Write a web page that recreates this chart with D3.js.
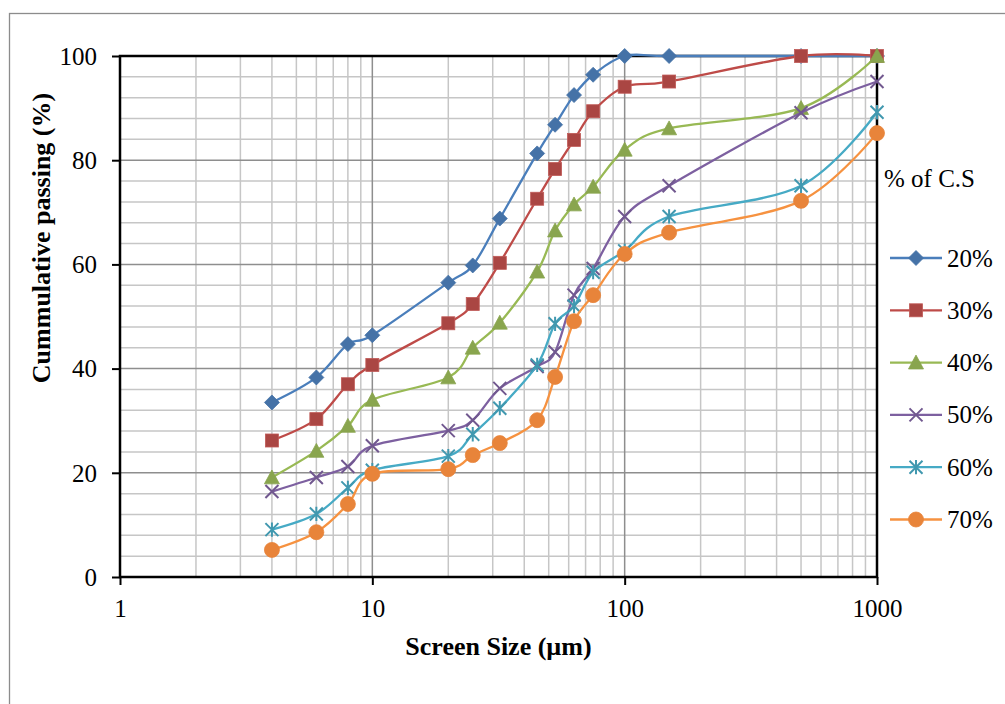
<!DOCTYPE html>
<html>
<head>
<meta charset="utf-8">
<script src="https://cdn.jsdelivr.net/npm/d3@7"></script>
<style>
  html, body { margin: 0; padding: 0; background: #fff; }
  svg { display: block; font-family: "Liberation Serif", "Times New Roman", serif; }
  svg text { font-family: "Liberation Serif", "Times New Roman", serif; }
</style>
</head>
<body>
<svg id="chart" width="1005" height="704"></svg>
<script>
// Screen sizes (µm) used for every grading curve
const sizes = [4, 6, 8, 10, 20, 25, 32, 45, 53, 63, 75, 100, 150, 500, 1000];

// Cumulative passing (%) for each C.S content
const cs20 = [33.5, 38.3, 44.7, 46.4, 56.5, 59.8, 68.8, 81.3, 86.8, 92.5, 96.4, 100, 100, 100, 100];
const cs30 = [26.2, 30.3, 37.0, 40.7, 48.7, 52.4, 60.3, 72.6, 78.3, 83.9, 89.4, 94.1, 95.1, 100, 100];
const cs40 = [19.1, 24.2, 29.0, 34.0, 38.3, 44.0, 48.8, 58.6, 66.5, 71.5, 74.9, 82.0, 86.1, 90.0, 100];
const cs50 = [16.4, 19.1, 21.2, 25.2, 28.1, 30.1, 36.2, 40.4, 43.2, 54.1, 59.2, 69.2, 75.1, 89.1, 95.1];
const cs60 = [9.1, 12.1, 17.1, 20.5, 23.2, 27.4, 32.4, 40.7, 48.6, 52.0, 58.5, 62.6, 69.2, 75.1, 89.2];
const cs70 = [5.2, 8.6, 14.0, 19.8, 20.7, 23.4, 25.7, 30.1, 38.4, 49.1, 54.1, 62.0, 66.1, 72.2, 85.2];

const seriesNames = ["20%", "30%", "40%", "50%", "60%", "70%"];
const seriesValues = [cs20, cs30, cs40, cs50, cs60, cs70];

const xTicks = [1, 10, 100, 1000];
const yTicks = [0, 20, 40, 60, 80, 100];

const legendTitle = "% of C.S";
const xTitle = "Screen Size (µm)";
const yTitle = "Cummulative passing (%)";

// Styling
const serif = "'Liberation Serif', 'Times New Roman', serif";
const lineColors   = ["#4A7EBB", "#BE4B48", "#98B954", "#7D60A0", "#46AAC5", "#F69240"];
const markerColors = ["#4572A7", "#AA4643", "#89A54E", "#71588F", "#4198AF", "#E8843A"];
const markerKinds  = ["diamond", "square", "triangle", "x", "star", "circle"];

const svg = d3.select("#chart");
const pLeft = 120, pRight = 877, pTop = 56, pBottom = 577;

const x = d3.scaleLog().domain([1, 1000]).range([pLeft, pRight]);
const y = d3.scaleLinear().domain([0, 100]).range([pBottom, pTop]);

// Outer chart frame
svg.append("rect")
  .attr("x", 9.5).attr("y", 13.5)
  .attr("width", 1000).attr("height", 700)
  .attr("fill", "none").attr("stroke", "#8c8c8c").attr("stroke-width", 1.3);

// Grid: minor lines first, then decade / 20% lines
const grid = svg.append("g");
const minorX = [];
[1, 10, 100].forEach(d => { for (let k = 2; k <= 9; k++) minorX.push(d * k); });
const majorX = [10, 100];
const minorY = d3.range(4, 100, 4).filter(v => v % 20 !== 0);
const majorY = [20, 40, 60, 80];

grid.selectAll(".mx").data(minorX).join("line")
  .attr("x1", d => x(d)).attr("x2", d => x(d))
  .attr("y1", pTop).attr("y2", pBottom)
  .attr("stroke", "#c6c6c6").attr("stroke-width", 1.5);
grid.selectAll(".my").data(minorY).join("line")
  .attr("x1", pLeft).attr("x2", pRight)
  .attr("y1", d => y(d)).attr("y2", d => y(d))
  .attr("stroke", "#c6c6c6").attr("stroke-width", 1.5);
grid.selectAll(".Mx").data(majorX).join("line")
  .attr("x1", d => x(d)).attr("x2", d => x(d))
  .attr("y1", pTop).attr("y2", pBottom)
  .attr("stroke", "#8e8e8e").attr("stroke-width", 1.5);
grid.selectAll(".My").data(majorY).join("line")
  .attr("x1", pLeft).attr("x2", pRight)
  .attr("y1", d => y(d)).attr("y2", d => y(d))
  .attr("stroke", "#8e8e8e").attr("stroke-width", 1.5);

// Axes
const xAxis = d3.axisBottom(x).tickValues(xTicks).tickFormat(d3.format("d")).tickSize(8).tickSizeOuter(0);
const yAxis = d3.axisLeft(y).tickValues(yTicks).tickFormat(d3.format("d")).tickSize(8).tickSizeOuter(0);

const gx = svg.append("g").attr("transform", `translate(0,${pBottom})`).call(xAxis);
const gy = svg.append("g").attr("transform", `translate(${pLeft},0)`).call(yAxis);
[gx, gy].forEach(g => {
  g.attr("font-family", serif).attr("font-size", 25);
  g.select(".domain").remove();
  g.selectAll(".tick line").attr("stroke", "#000").attr("stroke-width", 2);
  g.selectAll(".tick text").attr("fill", "#000")
    .attr("font-family", serif).style("font-family", serif).style("font-size", "25px");
});
gx.selectAll(".tick text").attr("y", 0).attr("dy", "40px");
gy.selectAll(".tick text").attr("x", -23).attr("dy", "0.33em");

// Plot frame
svg.append("rect")
  .attr("x", pLeft).attr("y", pTop)
  .attr("width", pRight - pLeft).attr("height", pBottom - pTop)
  .attr("fill", "none").attr("stroke", "#000").attr("stroke-width", 2.5);

// Marker drawing
function drawMarker(g, kind, color, cx, cy, scale = 1) {
  const s = scale;
  if (kind === "diamond") {
    const r = 7.5 * s;
    g.append("path").attr("d", `M${cx},${cy - r}L${cx + r},${cy}L${cx},${cy + r}L${cx - r},${cy}Z`)
      .attr("fill", color).attr("stroke", color).attr("stroke-width", 0.8);
  } else if (kind === "square") {
    const r = 6.5 * s;
    g.append("rect").attr("x", cx - r).attr("y", cy - r).attr("width", 2 * r).attr("height", 2 * r)
      .attr("fill", color).attr("stroke", "#c05a57").attr("stroke-width", 0.8);
  } else if (kind === "triangle") {
    const r = 7.5 * s;
    g.append("path").attr("d", `M${cx},${cy - r}L${cx + r},${cy + r * 0.85}L${cx - r},${cy + r * 0.85}Z`)
      .attr("fill", color).attr("stroke", color).attr("stroke-width", 0.8);
  } else if (kind === "x") {
    const r = 6.5 * s;
    g.append("path").attr("d", `M${cx - r},${cy - r}L${cx + r},${cy + r}M${cx - r},${cy + r}L${cx + r},${cy - r}`)
      .attr("stroke", color).attr("stroke-width", 2).attr("fill", "none");
  } else if (kind === "star") {
    const r = 6.5 * s;
    g.append("path").attr("d", `M${cx - r},${cy - r}L${cx + r},${cy + r}M${cx - r},${cy + r}L${cx + r},${cy - r}M${cx},${cy - r * 1.1}L${cx},${cy + r * 1.1}`)
      .attr("stroke", color).attr("stroke-width", 2).attr("fill", "none");
  } else if (kind === "circle") {
    g.append("circle").attr("cx", cx).attr("cy", cy).attr("r", 7.5 * s)
      .attr("fill", color).attr("stroke", color).attr("stroke-width", 0.8);
  }
}

// Smoothed grading curves
const line = d3.line()
  .x(d => x(d[0]))
  .y(d => y(d[1]))
  .curve(d3.curveCatmullRom.alpha(0));

const plot = svg.append("g");
seriesValues.forEach((vals, i) => {
  const pts = sizes.map((s, j) => [s, vals[j]]);
  const g = plot.append("g");
  g.append("path").datum(pts)
    .attr("d", line)
    .attr("fill", "none")
    .attr("stroke", lineColors[i])
    .attr("stroke-width", 2.3);
  pts.forEach(p => drawMarker(g, markerKinds[i], markerColors[i], x(p[0]), y(p[1])));
});

// Axis titles
svg.append("text")
  .attr("x", (pLeft + pRight) / 2).attr("y", 655)
  .attr("text-anchor", "middle")
  .attr("font-family", serif)
  .style("font-size", "26px").style("font-weight", "bold")
  .text(xTitle);

svg.append("text")
  .attr("transform", "translate(50,238) rotate(-90)")
  .attr("text-anchor", "middle")
  .attr("font-family", serif)
  .style("font-size", "26px").style("font-weight", "bold")
  .text(yTitle);

// Legend
const legend = svg.append("g").attr("font-family", serif);
legend.append("text").attr("x", 884).attr("y", 187)
  .style("font-size", "25px").text(legendTitle);
seriesNames.forEach((name, i) => {
  const cy = 258 + i * 52.3;
  legend.append("line").attr("x1", 890).attr("x2", 942).attr("y1", cy).attr("y2", cy)
    .attr("stroke", lineColors[i]).attr("stroke-width", 2.3);
  drawMarker(legend, markerKinds[i], markerColors[i], 916, cy);
  legend.append("text").attr("x", 947).attr("y", cy).attr("dy", "0.34em")
    .style("font-size", "25px").text(name);
});
</script>
</body>
</html>
